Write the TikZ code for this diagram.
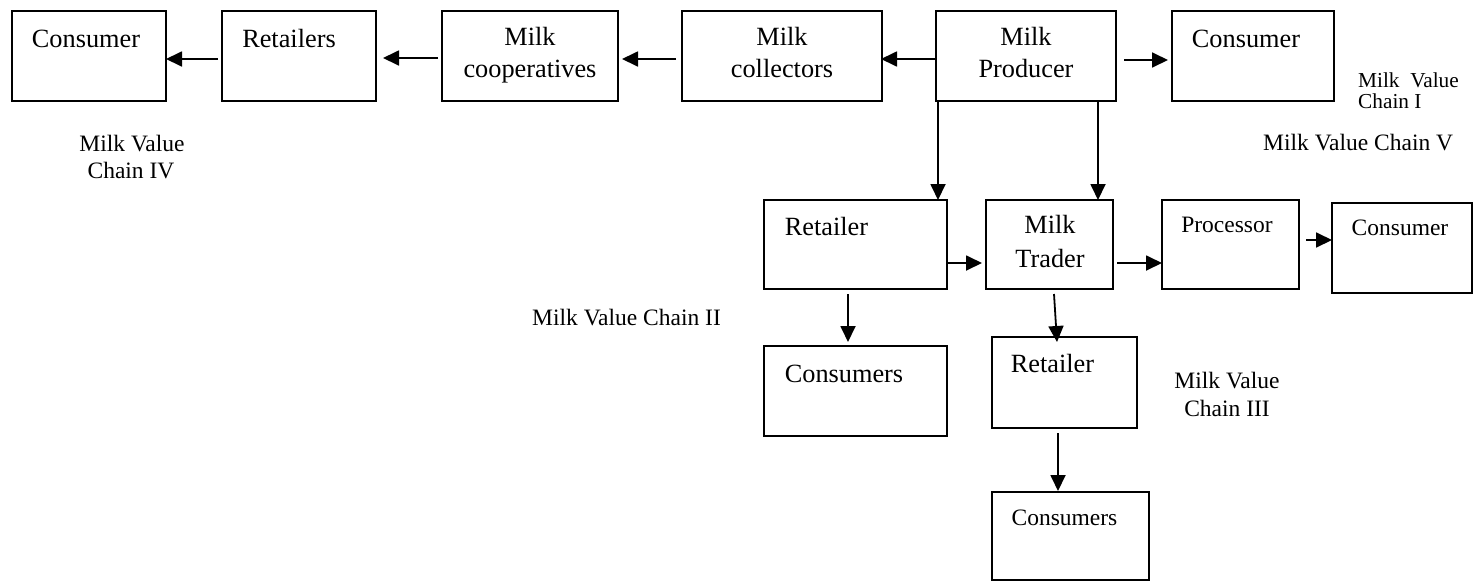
\documentclass[tikz,border=0pt]{standalone}
\usepackage{fontspec}
\setmainfont{Liberation Serif}
\usetikzlibrary{arrows.meta}
\begin{document}
\begin{tikzpicture}[x=1pt,y=-1pt,
  box/.style 2 args={draw, line width=1.8pt, rectangle, inner sep=0pt, outer sep=0pt,
    minimum width=#1, minimum height=#2},
  big/.style={font=\fontsize{26.3pt}{30pt}\selectfont, inner sep=0pt, anchor=base},
  mid/.style={font=\fontsize{23.5pt}{27pt}\selectfont, inner sep=0pt, anchor=base},
  small/.style={font=\fontsize{21.3pt}{24pt}\selectfont, inner sep=0pt, anchor=base west},
  flow/.style={line width=1.8pt, -{Triangle[length=16pt,width=15pt]}}]
\useasboundingbox (0,0) rectangle (1483,582);

% ---- boxes ----
\node[box={154pt}{90pt}] (consL)  at (89,56) {};
\node[box={154pt}{90pt}] (ret)    at (299,56) {};
\node[box={176pt}{90pt}] (coop)   at (530,56) {};
\node[box={200pt}{90pt}] (coll)   at (782,56) {};
\node[box={180pt}{90pt}] (prod)   at (1026,56) {};
\node[box={162pt}{90pt}] (consTR) at (1253,56) {};
\node[box={183pt}{89pt}] (retM)   at (855.5,244.5) {};
\node[box={127pt}{89pt}] (trader) at (1049.5,244.5) {};
\node[box={137pt}{89pt}] (proc)   at (1230.5,244.5) {};
\node[box={140pt}{90pt}] (consR)  at (1402,248) {};
\node[box={183pt}{90pt}] (consM)  at (855.5,391) {};
\node[box={145pt}{91pt}] (retB)   at (1064.5,382.5) {};
\node[box={157pt}{88pt}] (consB)  at (1070.5,536) {};

% ---- box texts ----
\node[big] (tConsL) at (86,47.7) {Consumer};
\node[big] (tRet) at (289,47) {Retailers};
\node[big] (tCoop1) at (530,45.7) {Milk};
\node[big] (tCoop2) at (530,77) {cooperatives};
\node[big] (tColl1) at (782,45.7) {Milk};
\node[big] (tColl2) at (782,77) {collectors};
\node[big] (tProd1) at (1026,45.7) {Milk};
\node[big] (tProd2) at (1026,77) {Producer};
\node[big] (tConsTR) at (1246,47) {Consumer};
\node[big] (tRetM) at (826.5,235) {Retailer};
\node[big] (tTrader1) at (1050,233) {Milk};
\node[big] (tTrader2) at (1050,267) {Trader};
\node[mid] (tProc) at (1227,232) {Processor};
\node[mid] (tConsR) at (1400,235) {Consumer};
\node[big] (tConsM) at (844,382) {Consumers};
\node[big] (tRetB) at (1052.5,372) {Retailer};
\node[mid] (tConsB) at (1064.5,525) {Consumers};

% ---- chain labels ----
\node[mid] (lIVa) at (132,151.7) {Milk Value};
\node[mid] (lIVb) at (131,178) {Chain IV};
\node[small] (lIa) at (1358,87) {Milk\ \ Value};
\node[small] (lIb) at (1358,108) {Chain I};
\node[mid, anchor=base west] (lV) at (1263,150) {Milk Value Chain V};
\node[mid, anchor=base west] (lII) at (532,325) {Milk Value Chain II};
\node[mid] (lIIIa) at (1227,388) {Milk Value};
\node[mid] (lIIIb) at (1227,416) {Chain III};

% ---- flows ----
\draw[flow] ([xshift=-4pt,yshift=-3pt]ret.west) -- ([yshift=-3pt]consL.east);
\draw[flow] ([xshift=-4pt,yshift=-2pt]coop.west) -- ([xshift=7pt,yshift=-2pt]ret.east);
\draw[flow] ([xshift=-6pt,yshift=-3pt]coll.west) -- ([xshift=4pt,yshift=-3pt]coop.east);
\draw[flow] ([yshift=-3pt]prod.west) -- ([xshift=-1pt,yshift=-3pt]coll.east);
\draw[flow] ([xshift=8pt,yshift=-4pt]prod.east) -- ([xshift=-4pt,yshift=-4pt]consTR.west);
\draw[flow] ([xshift=2pt]prod.south west) -- ([xshift=-9pt]retM.north east);
\draw[flow] ([xshift=-18pt]prod.south east) -- ([xshift=-15pt]trader.north east);
\draw[flow] ([yshift=-18.5pt]retM.east) -- ([xshift=-4pt,yshift=-18.5pt]trader.west);
\draw[flow] ([xshift=-7.5pt,yshift=-5pt]retM.south) -- ([xshift=-7.5pt,yshift=4pt]consM.north);
\draw[flow] ([xshift=4pt,yshift=-18.5pt]trader.east) -- ([yshift=-18.5pt]proc.west);
\draw[flow] ([xshift=7pt,yshift=4.5pt]proc.east) -- ([yshift=8pt]consR.west);
\draw[flow] ([xshift=4.5pt,yshift=-5pt]trader.south) -- ([xshift=-7.5pt,yshift=-5pt]retB.north);
\draw[flow] ([xshift=-6.5pt,yshift=-5pt]retB.south) -- ([xshift=-12.5pt,yshift=1pt]consB.north);
\end{tikzpicture}
\end{document}
